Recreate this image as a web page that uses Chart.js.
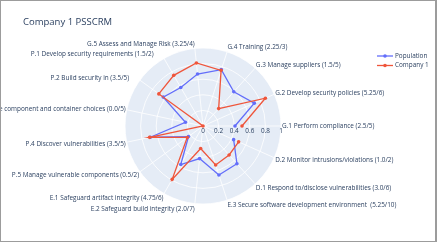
<!DOCTYPE html>
<html>
<head>
<meta charset="utf-8">
<title>Company 1 PSSCRM</title>
<script src="https://cdn.jsdelivr.net/npm/chart.js@4.4.1/dist/chart.umd.min.js"></script>
<style>
  body { margin: 0; background: #fff; }
  .wrap { position: relative; width: 437px; height: 243px; }
  canvas { display: block; }
  .frame {
    position: absolute; left: 0; top: 0; width: 437px; height: 242px;
    box-sizing: border-box; border: 1px solid #9c9c9c; border-right-width: 2px;
    pointer-events: none;
  }
</style>
</head>
<body>
<div class="wrap">
  <canvas id="radarCanvas" width="437" height="243"></canvas>
  <div class="frame"></div>
</div>
<script>
// categories in the order of the trace (counterclockwise, starting on the east axis)
const categories = [
  "G.1 Perform compliance (2.5/5)",
  "G.2 Develop security policies (5.25/6)",
  "G.3 Manage suppliers (1.5/5)",
  "G.4 Training (2.25/3)",
  "G.5 Assess and Manage Risk (3.25/4)",
  "P.1 Develop security requirements (1.5/2)      ",
  "P.2 Build security in (3.5/5)      ",
  "P.3 Manage component and container choices (0.0/5)",
  "P.4 Discover vulnerabilities (3.5/5)",
  "P.5 Manage vulnerable components (0.5/2)",
  "E.1 Safeguard artifact integrity (4.75/6)",
  "E.2 Safeguard build integrity (2.0/7)",
  "E.3 Secure software development environment  (5.25/10)",
  "D.1 Respond to/disclose vulnerabilities (3.0/6)",
  "D.2 Monitor intrusions/violations (1.0/2)"
];

const population = [0.41, 0.72, 0.59, 0.76, 0.67, 0.57, 0.63, 0.23, 0.69, 0.23, 0.57, 0.42, 0.66, 0.65, 0.43];
const company1 = [0.5, 0.875, 0.3, 0.75, 0.8125, 0.75, 0.7, 0.0, 0.7, 0.25, 0.79, 0.29, 0.525, 0.5, 0.5];

const radialTicks = [0, 0.2, 0.4, 0.6, 0.8, 1];

const popColor = '#636efa';
const compColor = '#EF553B';
const textColor = '#2a3f5f';

// chart.js goes clockwise, so feed the categories reversed; D.2 sits at 114deg from the top
// the trailing null keeps each trace open (no segment from G.1 back to D.2)
const labelsCw = categories.slice().reverse();
const openTrace = (values) => values.slice().reverse().concat([null]);

// Title, category labels, radial tick labels and legend drawn the plotly way
const plotlyText = {
  id: 'plotlyText',
  afterDraw(chart) {
    const ctx = chart.ctx;
    const r = chart.scales.r;
    ctx.save();
    ctx.fillStyle = textColor;

    // title
    ctx.font = '9.5px "Open Sans"';
    ctx.textAlign = 'left';
    ctx.textBaseline = 'middle';
    ctx.fillText('Company 1 PSSCRM', 23, 22);

    // category labels just outside the circle
    ctx.font = '6.4px "Open Sans"';
    chart.data.labels.forEach((label, i) => {
      const p = r.getPointPosition(i, r.drawingArea + 1);
      const c = Math.cos(p.angle), s = Math.sin(p.angle);
      ctx.textAlign = c >= 0 ? 'left' : 'right';
      ctx.fillText(label, p.x, p.y + s * 4 + 0.5);
    });

    // radial ticks along the east axis
    ctx.textAlign = 'center';
    radialTicks.forEach(v => {
      ctx.fillText(String(v), r.xCenter + r.getDistanceFromCenterForValue(v), r.yCenter + 5);
    });

    // legend
    const items = [['Population', popColor], ['Company 1', compColor]];
    items.forEach(([name, color], k) => {
      const y = 56 + k * 9.5;
      ctx.strokeStyle = color;
      ctx.lineWidth = 1.3;
      ctx.beginPath();
      ctx.moveTo(377, y);
      ctx.lineTo(393, y);
      ctx.stroke();
      ctx.fillStyle = color;
      ctx.beginPath();
      ctx.arc(385, y, 1.8, 0, Math.PI * 2);
      ctx.fill();
      ctx.fillStyle = textColor;
      ctx.textAlign = 'left';
      ctx.fillText(name, 395, y);
    });
    ctx.restore();
  }
};

new Chart(document.getElementById('radarCanvas'), {
  type: 'radar',
  data: {
    labels: labelsCw,
    datasets: [
      {
        label: 'Company 1',
        data: openTrace(company1),
        borderColor: compColor,
        backgroundColor: compColor,
        pointBackgroundColor: compColor,
        pointBorderWidth: 0,
        pointRadius: 1.8,
        borderWidth: 1.3,
        fill: false
      },
      {
        label: 'Population',
        data: openTrace(population),
        borderColor: popColor,
        backgroundColor: popColor,
        pointBackgroundColor: popColor,
        pointBorderWidth: 0,
        pointRadius: 1.8,
        borderWidth: 1.3,
        fill: false
      }
    ]
  },
  options: {
    responsive: false,
    animation: false,
    events: [],
    layout: { padding: { left: 125, right: 155, top: 48, bottom: 39 } },
    plugins: {
      legend: { display: false },
      tooltip: { enabled: false }
    },
    scales: {
      r: {
        min: 0,
        max: 1,
        startAngle: 114,
        backgroundColor: '#E5ECF6',
        ticks: { display: false, stepSize: 0.2 },
        pointLabels: { display: false },
        grid: { circular: true, color: '#ffffff', lineWidth: 0.8 },
        angleLines: { color: '#ffffff', lineWidth: 0.8 }
      }
    }
  },
  plugins: [plotlyText]
});
</script>
</body>
</html>
